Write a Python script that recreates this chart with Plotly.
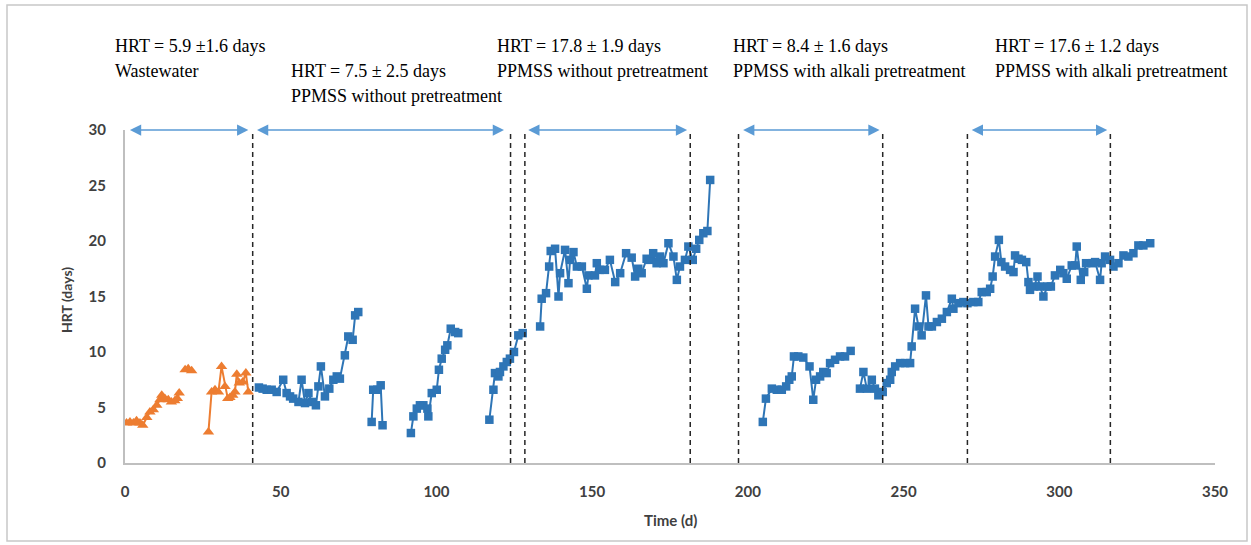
import plotly.graph_objects as go

# ---------------- data ----------------
# Orange series (wastewater period), days and HRT (days)
orange_days_a = [0.5, 1.6, 2.7, 3.7, 4.8, 5.7, 7.0, 8.0, 9.1, 10.2, 11.2, 11.8, 12.8, 13.9, 14.9, 16.0, 16.8, 17.4]
orange_hrt_a = [3.6, 3.7, 3.6, 3.8, 3.6, 3.4, 4.1, 4.6, 4.8, 5.2, 5.7, 6.1, 5.8, 5.7, 5.5, 5.6, 5.8, 6.3]
orange_days_b = [19.3, 20.3, 21.4]
orange_hrt_b = [8.4, 8.5, 8.3]
orange_days_c = [26.8, 27.8, 28.9, 30.0, 31.0, 32.1, 33.0, 33.7, 34.6, 35.3, 35.9, 36.7, 37.8, 38.8, 39.6]
orange_hrt_c = [2.8, 6.4, 6.6, 6.4, 8.7, 6.9, 5.8, 5.9, 6.1, 6.4, 8.0, 7.2, 7.3, 8.1, 6.4]

# Blue series (PPMSS periods)
blue_days_1 = [43.0, 44.2, 45.5, 47.1, 48.7, 50.8, 51.9, 53.0, 54.0, 55.7, 56.7, 57.8, 58.9, 60.0, 61.3, 62.1,
               62.9, 64.2, 65.6, 66.9, 68.0, 69.0, 70.6, 71.7, 73.1, 73.9, 74.9]
blue_hrt_1 = [6.8, 6.7, 6.6, 6.6, 6.4, 7.5, 6.3, 6.0, 5.8, 5.5, 7.5, 5.4, 6.3, 5.5, 5.2, 6.9,
              8.7, 6.0, 6.7, 7.5, 7.8, 7.6, 9.7, 11.4, 11.1, 13.3, 13.6]
blue_days_2 = [79.2, 79.7, 81.0, 82.1, 82.7]
blue_hrt_2 = [3.7, 6.6, 6.6, 7.0, 3.4]
blue_days_3 = [91.8, 92.6, 93.7, 94.7, 95.8, 97.1, 97.4, 98.5, 100.1, 100.8, 101.7, 102.8, 103.5, 104.6, 106.0, 107.0]
blue_hrt_3 = [2.7, 4.2, 4.9, 5.2, 5.2, 4.9, 4.2, 6.3, 6.6, 8.4, 9.4, 10.2, 10.6, 12.1, 11.8, 11.7]
blue_days_4 = [117.0, 118.3, 118.8, 119.9, 120.4, 121.5, 122.6, 123.6, 124.9, 126.3, 127.7]
blue_hrt_4 = [3.9, 6.6, 8.1, 7.8, 8.2, 8.7, 9.1, 9.4, 10.0, 11.5, 11.7]
blue_days_5 = [133.3, 133.8, 135.2, 136.2, 136.7, 138.1, 139.2, 139.7, 141.3, 142.4, 142.9, 144.0, 145.1, 146.7,
               148.3, 148.8, 150.9, 151.5, 152.5, 154.1, 155.7, 157.4, 159.0, 160.9, 162.7, 163.8, 164.8, 165.9,
               167.5, 168.6, 169.6, 170.7, 171.8, 172.9, 174.5, 176.1, 177.2, 178.2, 179.8, 180.9, 182.3, 183.4,
               184.4, 185.7, 187.0, 187.9]
blue_hrt_5 = [12.3, 14.8, 15.3, 17.7, 19.1, 19.3, 15.0, 17.1, 19.2, 16.2, 18.3, 19.0, 17.7, 17.7,
              15.7, 16.9, 16.9, 18.0, 17.4, 17.4, 18.3, 16.3, 17.1, 18.9, 18.5, 16.8, 17.5, 17.1,
              18.4, 18.3, 18.9, 18.0, 18.6, 18.0, 19.8, 18.6, 16.5, 17.7, 18.3, 19.5, 18.3, 19.3,
              20.1, 20.7, 20.9, 25.5]
blue_days_6 = [204.8, 205.8, 207.7, 209.3, 210.9, 212.3, 213.3, 214.1, 214.8, 216.2, 217.8, 219.8, 221.0,
               221.9, 223.2, 224.2, 225.3, 226.4, 228.0, 229.6, 231.2, 233.0]
blue_hrt_6 = [3.7, 5.8, 6.7, 6.6, 6.6, 6.9, 7.5, 7.8, 9.6, 9.6, 9.5, 8.7, 5.7,
              7.5, 7.8, 8.2, 8.1, 9.0, 9.3, 9.6, 9.6, 10.1]
blue_days_7 = [236.0, 237.1, 238.2, 239.8, 240.8, 241.9, 243.3, 244.6, 245.7, 246.2, 247.3, 248.9, 250.5,
               252.1, 252.6, 253.7, 254.8, 255.8, 257.2, 258.0, 259.1, 260.7, 262.3, 263.9, 265.5, 266.0,
               267.6, 269.2, 270.5, 272.4, 274.0, 275.1, 276.7, 277.8, 278.6, 279.4, 280.6, 281.4, 282.6,
               284.2, 285.3, 285.8, 286.9, 288.0, 289.4, 290.1, 290.6, 291.9, 293.0, 293.8, 294.9, 296.2,
               297.3, 298.6, 300.3, 301.3, 302.4, 304.0, 305.1, 305.6, 306.9, 308.0, 308.6, 310.4, 311.5,
               313.1, 313.6, 314.7, 316.3, 317.4, 319.0, 320.6, 322.2, 323.8, 325.4, 327.0, 329.2]
blue_hrt_7 = [6.7, 8.2, 6.7, 7.5, 6.7, 6.1, 6.4, 7.2, 7.5, 8.2, 8.7, 9.0, 9.0,
              9.0, 10.5, 13.9, 12.3, 11.5, 15.1, 12.3, 12.3, 12.7, 13.0, 13.6, 14.8, 13.9,
              14.4, 14.5, 14.4, 14.5, 14.5, 15.4, 15.4, 15.7, 16.8, 18.6, 20.1, 18.1, 17.7,
              17.4, 17.2, 18.7, 18.4, 18.3, 18.1, 16.3, 15.6, 15.9, 16.8, 15.9, 15.0, 15.9,
              15.9, 16.9, 17.4, 17.1, 16.6, 17.8, 17.8, 19.5, 16.5, 17.2, 18.0, 18.0, 18.1,
              16.5, 18.0, 18.6, 18.3, 17.7, 18.0, 18.7, 18.6, 18.9, 19.6, 19.6, 19.8]

# Period boundaries (days) and period labels
boundary_days = [41.0, 123.8, 128.4, 181.5, 197.0, 243.3, 270.5, 316.4]
arrow_start = [1.1, 41.9, 129.0, 198.0, 271.4]
arrow_end = [39.6, 121.7, 180.5, 242.3, 315.4]
period_line1 = ["HRT = 5.9 ±1.6 days", "HRT = 7.5 ± 2.5 days", "HRT = 17.8 ± 1.9 days",
                "HRT = 8.4 ± 1.6 days", "HRT = 17.6 ± 1.2 days"]
period_line2 = ["Wastewater", "PPMSS without pretreatment", "PPMSS without pretreatment",
                "PPMSS with alkali pretreatment", "PPMSS with alkali pretreatment"]

x_ticks = [0, 50, 100, 150, 200, 250, 300, 350]
y_ticks = [0, 5, 10, 15, 20, 25, 30]


def join(segs):
    xs, ys = [], []
    for i, (dx, dy) in enumerate(segs):
        assert len(dx) == len(dy)
        if i:
            xs.append(None)
            ys.append(None)
        xs.extend(dx)
        ys.extend(dy)
    return xs, ys


ox, oy = join([(orange_days_a, orange_hrt_a), (orange_days_b, orange_hrt_b), (orange_days_c, orange_hrt_c)])
bx, by = join([(blue_days_1, blue_hrt_1), (blue_days_2, blue_hrt_2), (blue_days_3, blue_hrt_3),
               (blue_days_4, blue_hrt_4), (blue_days_5, blue_hrt_5), (blue_days_6, blue_hrt_6),
               (blue_days_7, blue_hrt_7)])

# ---------------- figure ----------------
W, H = 1251, 545
L, R, T, B = 125, 36, 130, 82
PW, PH = W - L - R, H - T - B


def px_x(p):
    return (p - L) / PW


def px_y(p):
    return (H - B - p) / PH


fig = go.Figure()
fig.add_trace(go.Scatter(x=ox, y=oy, mode="lines+markers", connectgaps=False,
                         line=dict(color="#ed7d31", width=2),
                         marker=dict(symbol="triangle-up", size=10, color="#ed7d31"),
                         showlegend=False))
fig.add_trace(go.Scatter(x=bx, y=by, mode="lines+markers", connectgaps=False,
                         line=dict(color="#2e75b6", width=2),
                         marker=dict(symbol="square", size=8.5, color="#2e75b6"),
                         showlegend=False))

shapes = []
for d in boundary_days:
    shapes.append(dict(type="line", xref="x", yref="y", x0=d, x1=d, y0=0, y1=30,
                       line=dict(color="#262626", width=1.5, dash="5px,4px")))
# outer frame
shapes.append(dict(type="rect", xref="paper", yref="paper",
                   x0=px_x(7), x1=px_x(1247), y0=px_y(541), y1=px_y(5),
                   line=dict(color="#c8c8c8", width=1.5), fillcolor="rgba(0,0,0,0)", layer="below"))

annotations = []
for s, e in zip(arrow_start, arrow_end):
    annotations.append(dict(x=e, y=30, ax=s, ay=30, xref="x", yref="y", axref="x", ayref="y",
                            text="", showarrow=True, arrowside="end+start", arrowhead=2,
                            arrowsize=1.5, arrowwidth=1.5, arrowcolor="#5b9bd5",
                            standoff=0, startstandoff=0))

text_x = [113, 289, 495, 731, 993]
text_y1 = [46, 71, 46, 46, 46]
serif = dict(family="Liberation Serif, Times New Roman, serif", size=18, color="#000000")
for tx, ty, t1, t2 in zip(text_x, text_y1, period_line1, period_line2):
    annotations.append(dict(x=px_x(tx), y=px_y(ty), xref="paper", yref="paper", text=t1,
                            showarrow=False, xanchor="left", yanchor="middle", font=serif))
    annotations.append(dict(x=px_x(tx), y=px_y(ty + 25), xref="paper", yref="paper", text=t2,
                            showarrow=False, xanchor="left", yanchor="middle", font=serif))

axis_font = dict(family="Lato, Carlito, sans-serif", size=15, color="#404040", weight="bold")
annotations.append(dict(x=px_x(66), y=px_y(300), xref="paper", yref="paper", text="HRT (days)",
                        textangle=-90, showarrow=False, xanchor="center", yanchor="middle",
                        font=dict(family="Lato, sans-serif", size=14, color="#404040", weight="bold")))
annotations.append(dict(x=px_x(670), y=px_y(520), xref="paper", yref="paper", text="Time (d)",
                        showarrow=False, xanchor="center", yanchor="middle",
                        font=dict(family="Lato, sans-serif", size=15, color="#404040", weight="bold")))

fig.update_layout(
    width=W, height=H, margin=dict(l=L, r=R, t=T, b=B),
    paper_bgcolor="white", plot_bgcolor="white",
    shapes=shapes, annotations=annotations, showlegend=False,
    xaxis=dict(range=[0, 350], tickvals=x_ticks, showgrid=False, zeroline=False,
               showline=True, linecolor="#bfbfbf", linewidth=2, ticks="",
               tickfont=axis_font, ticklabelstandoff=14),
    yaxis=dict(range=[0, 30], tickvals=y_ticks, showgrid=False, zeroline=False,
               showline=True, linecolor="#bfbfbf", linewidth=2, ticks="",
               tickfont=axis_font, ticklabelstandoff=14),
)

fig.write_html("out.html", config={"displayModeBar": False},
               post_script="document.body.style.margin='0px';document.body.style.overflow='hidden';")
